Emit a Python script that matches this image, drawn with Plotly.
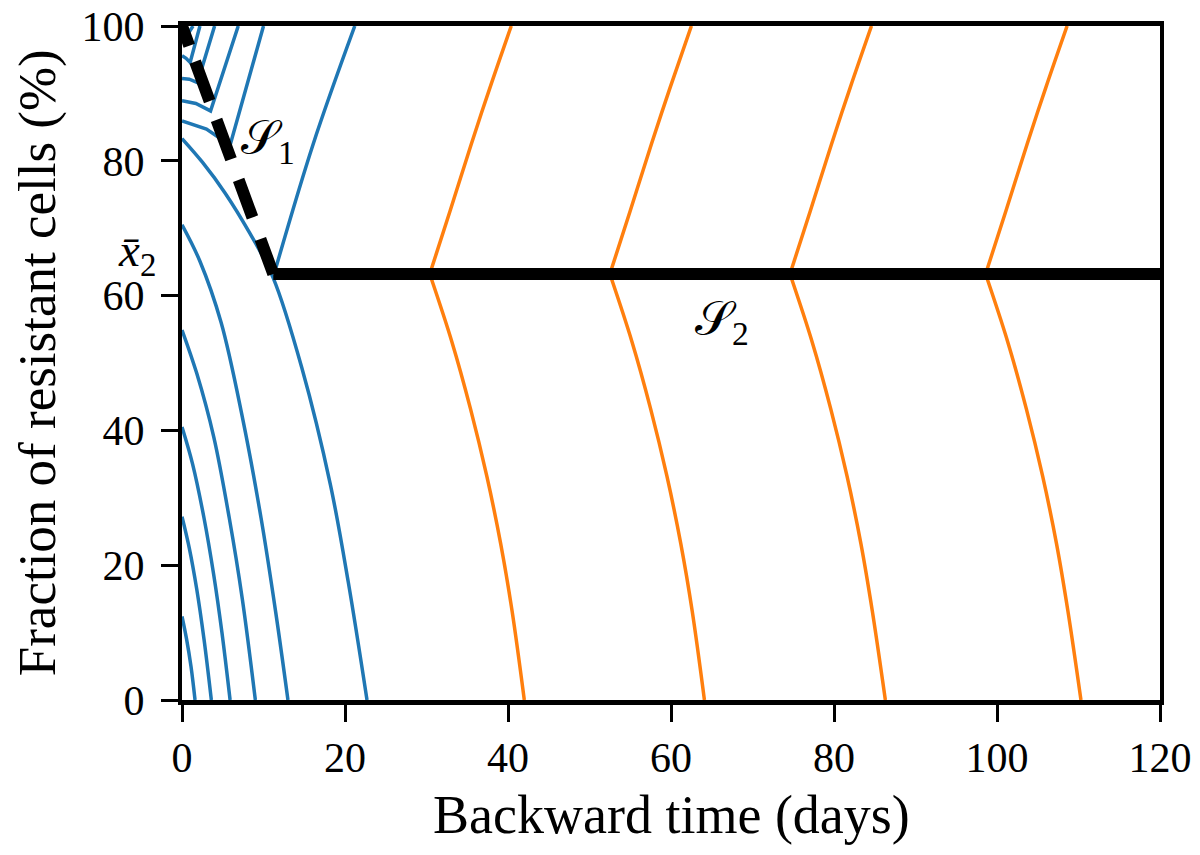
import plotly.graph_objects as go

BLUE = "#1f77b4"
ORANGE = "#ff7f0e"

# ---- Blue trajectories: upper family (turn back at the switching curve S1) ----
blueA0_t = [0, 0.4, 1.35]
blueA0_y = [98.8, 98.2, 100]
blueA_t = [0, 0.5, 1.0, 2.2]
blueA_y = [95.6, 95.2, 94.6, 100]
blueB_t = [0, 0.9, 1.9, 4.0]
blueB_y = [92.2, 92.1, 91.6, 100]
blueC_t = [0, 1.7, 3.5, 6.9]
blueC_y = [88.9, 88.5, 87.4, 100]
blueD_t = [0, 3.0, 5.9, 10.0]
blueD_y = [85.9, 84.7, 82.3, 100]
# trajectory passing the corner of S1/S2 and going down to 0
blueE_t = [0, 2.5, 5.3, 8.3, 11.2, 14.7, 18.2, 20.4, 22.7]
blueE_y = [83.3, 79.8, 75.2, 69.3, 62.6, 49.3, 32.0, 17.5, 0]
# trajectory leaving the corner upward
blueEup_t = [11.3, 16.1, 21.2]
blueEup_y = [63.2, 82.5, 100]

# ---- Blue trajectories: lower family (start at t=0, reach 0 %) ----
blueL1_t = [0, 2.2, 4.8, 7.4, 9.7, 11.5, 13.0]
blueL1_y = [70.5, 65.1, 56, 42, 27, 13, 0]
blueL2_t = [0, 1.8, 3.9, 5.8, 7.4, 9.0]
blueL2_y = [54.9, 48.5, 39, 27, 15, 0]
blueL3_t = [0, 1.3, 2.7, 3.9, 4.9, 5.9]
blueL3_y = [40.5, 35, 27, 18.5, 10, 0]
blueL4_t = [0, 0.9, 1.8, 2.7, 3.6]
blueL4_y = [27.2, 22.5, 16.5, 9, 0]
blueL5_t = [0, 0.55, 1.1, 1.6]
blueL5_y = [12.4, 9.1, 5, 0]

# ---- Orange trajectories: branches leaving S2 upward ----
orange_up_y = [63.2, 72.6, 82.5, 90.9, 100]
orange1_up_t = [30.4, 32.9, 35.5, 37.8, 40.4]
orange2_up_t = [52.5, 55.0, 57.6, 59.9, 62.5]
orange3_up_t = [74.6, 77.1, 79.7, 82.0, 84.6]
orange4_up_t = [98.6, 101.1, 103.7, 106.0, 108.6]

# ---- Orange trajectories: branches leaving S2 downward ----
orange_dn_y = [63.2, 53.2, 43.2, 33.2, 23.2, 13.2, 0]
orange1_dn_t = [30.4, 33.1, 35.4, 37.4, 39.1, 40.5, 42.0]
orange2_dn_t = [52.5, 55.2, 57.5, 59.5, 61.2, 62.6, 64.1]
orange3_dn_t = [74.6, 77.3, 79.6, 81.6, 83.3, 84.7, 86.3]
orange4_dn_t = [98.6, 101.3, 103.6, 105.6, 107.3, 108.7, 110.3]

# ---- Switching curves ----
S1_t = [0, 11.2]
S1_y = [100, 63.2]
S2_t = [11.2, 120]
S2_y = [63.2, 63.2]
xbar2 = 63.2

x_ticks = [0, 20, 40, 60, 80, 100, 120]
y_ticks = [0, 20, 40, 60, 80, 100]

fig = go.Figure()

def add(t, y, color, shape="linear", width=3.5):
    fig.add_trace(go.Scatter(x=t, y=y, mode="lines",
                             line=dict(color=color, width=width, shape=shape),
                             showlegend=False, hoverinfo="skip"))

for t, y in [(blueA0_t, blueA0_y), (blueA_t, blueA_y), (blueB_t, blueB_y),
             (blueC_t, blueC_y), (blueD_t, blueD_y)]:
    add(t, y, BLUE)
add(blueE_t, blueE_y, BLUE, "spline")
add(blueEup_t, blueEup_y, BLUE, "spline")
for t, y in [(blueL1_t, blueL1_y), (blueL2_t, blueL2_y), (blueL3_t, blueL3_y),
             (blueL4_t, blueL4_y), (blueL5_t, blueL5_y)]:
    add(t, y, BLUE, "spline")

for t in [orange1_up_t, orange2_up_t, orange3_up_t, orange4_up_t]:
    add(t, orange_up_y, ORANGE, "spline")
for t in [orange1_dn_t, orange2_dn_t, orange3_dn_t, orange4_dn_t]:
    add(t, orange_dn_y, ORANGE, "spline")

# switching curves
fig.add_trace(go.Scatter(x=S1_t, y=S1_y, mode="lines",
                         line=dict(color="black", width=12,
                                   dash="21px,17px,42px,20px,42px,22px,40px,23px,45px"),
                         showlegend=False, hoverinfo="skip"))
fig.add_trace(go.Scatter(x=S2_t, y=S2_y, mode="lines",
                         line=dict(color="black", width=12),
                         showlegend=False, hoverinfo="skip"))

FONT = "Liberation Serif"

fig.add_annotation(x=10.6, y=83, xref="x", yref="y", text="𝒮<sub>1</sub>",
                   showarrow=False, font=dict(family=FONT, size=48, color="black"))
fig.add_annotation(x=66.3, y=56.1, xref="x", yref="y", text="𝒮<sub>2</sub>",
                   showarrow=False, font=dict(family=FONT, size=48, color="black"))
# x̄2 label sits left of the y axis, at the level of S2
fig.add_annotation(x=-0.046, y=xbar2 + 3.0, xref="paper", yref="y",
                   text="<i>x̄</i><sub>2</sub>", showarrow=False,
                   xanchor="center", yanchor="middle",
                   font=dict(family=FONT, size=47, color="black"))

# axis titles
fig.add_annotation(x=0.5, y=-0.17, xref="paper", yref="paper",
                   text="Backward time (days)", showarrow=False,
                   xanchor="center", yanchor="middle",
                   font=dict(family=FONT, size=54, color="black"))
fig.add_annotation(x=-0.148, y=0.5, xref="paper", yref="paper",
                   text="Fraction of resistant cells (%)", showarrow=False,
                   textangle=-90, xanchor="center", yanchor="middle",
                   font=dict(family=FONT, size=53, color="black"))

fig.update_layout(
    width=1200, height=855,
    margin=dict(l=174, r=48, t=18, b=163, autoexpand=False),
    paper_bgcolor="white", plot_bgcolor="white",
    font=dict(family=FONT, color="black"),
    xaxis=dict(range=[0, 120], tickvals=x_ticks, ticktext=[str(v) for v in x_ticks],
               showline=True, linecolor="black", linewidth=4.5, mirror=True,
               ticks="outside", ticklen=17, tickwidth=3, tickcolor="black",
               showgrid=False, zeroline=False, automargin=False,
               ticklabeloverflow="allow",
               tickfont=dict(family=FONT, size=42, color="black"),
               ticklabelstandoff=0),
    yaxis=dict(range=[0, 100], tickvals=y_ticks, ticktext=[str(v) for v in y_ticks],
               showline=True, linecolor="black", linewidth=4, mirror=True,
               ticks="outside", ticklen=17, tickwidth=3, tickcolor="black",
               showgrid=False, zeroline=False, automargin=False,
               ticklabeloverflow="allow",
               tickfont=dict(family=FONT, size=42, color="black"),
               ticklabelstandoff=8),
)

fig.write_html("out.html")
